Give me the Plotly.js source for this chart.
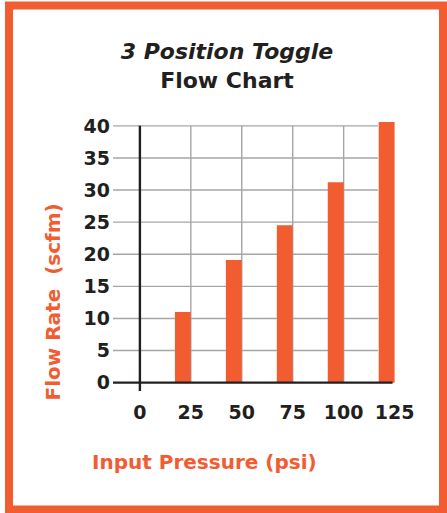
<!DOCTYPE html>
<html>
<head>
<meta charset="utf-8">
<script src="https://cdn.plot.ly/plotly-3.0.1.min.js"></script>
<style>
  html, body { margin: 0; padding: 0; background: #ffffff; }
  #chart { width: 447px; height: 513px; }
</style>
</head>
<body>
<div id="chart"></div>
<script>
// ---- data ----
const pressures = [25, 50, 75, 100, 125];
const flowRates = [11, 19.1, 24.5, 31.2, 40.6];
const xTickVals = [0, 25, 50, 75, 100, 125];
const xTickText = ['0', '25', '50', '75', '100', '125'];
const yTickVals = [0, 5, 10, 15, 20, 25, 30, 35, 40];
const yTickText = ['0', '5', '10', '15', '20', '25', '30', '35', '40'];
const chartTitle = '<i>3 Position Toggle</i><br>Flow Chart';
const xTitle = 'Input Pressure (psi)';
const yTitle = 'Flow Rate\u00a0 (scfm)';

// ---- style ----
const W = 447, H = 513;
const M = { l: 113, r: 52, t: 122, b: 122 };
const PW = W - M.l - M.r, PH = H - M.t - M.b;
const ORANGE = '#F15D31';
const INK = '#231F20';
const GRID = '#A6A6A6';
const FONT = 'DejaVu Sans, Liberation Sans, Arial, sans-serif';
const xRange = [-13.2, 125.2];
const yRange = [-1.3, 40.6];
const px2paperX = p => (p - M.l) / PW;
const px2paperY = p => (H - M.b - p) / PH;
const gridRightX = 116.9;

const shapes = [];
// horizontal gridlines
yTickVals.filter(v => v > 0).forEach(v => {
  shapes.push({ type: 'line', layer: 'below', xref: 'x', yref: 'y',
    x0: xRange[0], x1: gridRightX, y0: v, y1: v,
    line: { color: GRID, width: 1.4 } });
});
// vertical gridlines
pressures.slice(0, -1).forEach(v => {
  shapes.push({ type: 'line', layer: 'below', xref: 'x', yref: 'y',
    x0: v, x1: v, y0: 0, y1: yTickVals[yTickVals.length - 1],
    line: { color: GRID, width: 1.4 } });
});
// axis lines
shapes.push({ type: 'line', layer: 'above', xref: 'x', yref: 'y',
  x0: xRange[0], x1: 124, y0: 0, y1: 0, line: { color: INK, width: 2.2 } });
shapes.push({ type: 'line', layer: 'above', xref: 'x', yref: 'y',
  x0: 0, x1: 0, y0: yRange[0], y1: yTickVals[yTickVals.length - 1],
  line: { color: INK, width: 2.4 } });
// frame
shapes.push({ type: 'rect', layer: 'above', xref: 'paper', yref: 'paper',
  x0: px2paperX(9), x1: px2paperX(443), y0: px2paperY(509.5), y1: px2paperY(5.5),
  line: { color: ORANGE, width: 8 }, fillcolor: 'rgba(0,0,0,0)' });

const trace = {
  type: 'bar',
  x: pressures,
  y: flowRates,
  width: 7.8,
  offset: -7.8,
  marker: { color: ORANGE, line: { width: 0 } },
  hoverinfo: 'x+y',
  showlegend: false
};

const layout = {
  width: W, height: H,
  margin: M,
  paper_bgcolor: '#ffffff',
  plot_bgcolor: '#ffffff',
  font: { family: FONT, color: INK },
  title: {
    text: chartTitle,
    font: { family: FONT, size: 22, weight: 'bold', color: INK },
    xref: 'container', yref: 'container',
    x: 227 / W, xanchor: 'center',
    y: 1 - 59 / H, yanchor: 'middle'
  },
  xaxis: {
    range: xRange,
    tickmode: 'array', tickvals: xTickVals, ticktext: xTickText,
    showgrid: false, zeroline: false, showline: false, ticks: '',
    ticklabelstandoff: 8,
    tickfont: { family: FONT, size: 19, weight: 'bold', color: INK },
    fixedrange: true
  },
  yaxis: {
    range: yRange,
    tickmode: 'array', tickvals: yTickVals, ticktext: yTickText,
    showgrid: false, zeroline: false, showline: false, ticks: '',
    ticklabelstandoff: 2,
    tickfont: { family: FONT, size: 19, weight: 'bold', color: INK },
    fixedrange: true
  },
  shapes: shapes,
  annotations: [
    { text: xTitle, xref: 'paper', yref: 'paper',
      x: px2paperX(204), y: px2paperY(462), xanchor: 'center', yanchor: 'middle',
      showarrow: false, font: { family: FONT, size: 20, weight: 'bold', color: ORANGE } },
    { text: yTitle, xref: 'paper', yref: 'paper', textangle: -90,
      x: px2paperX(52), y: px2paperY(302.5), xanchor: 'center', yanchor: 'middle',
      showarrow: false, font: { family: FONT, size: 20, weight: 'bold', color: ORANGE } }
  ]
};

Plotly.newPlot('chart', [trace], layout, { displayModeBar: false, staticPlot: true });
</script>
</body>
</html>
